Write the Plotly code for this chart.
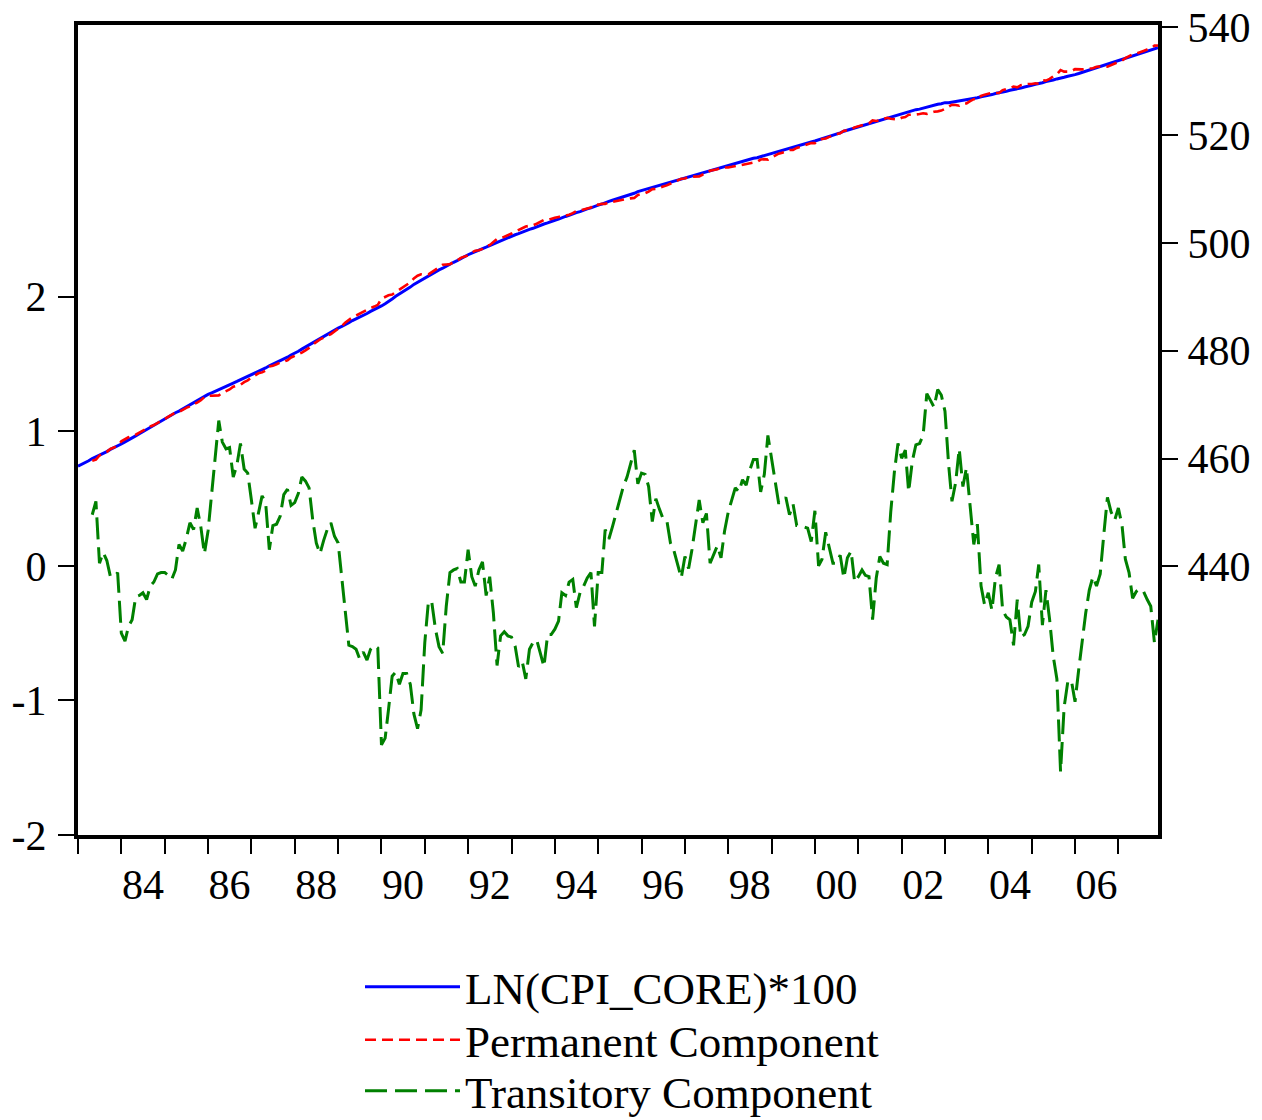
import pandas as pd
import plotly.graph_objects as go

# Monthly observations, 1983M01 - 2007M12
months = pd.date_range("1983-01-01", periods=300, freq="MS")

# LN(CPI_CORE)*100  (right axis)
ln_cpi_core = [
    458.6, 458.9, 459.3, 459.6, 460.0, 460.3, 460.6, 461.0, 461.3, 461.7, 462.0, 462.3,  # 1983
    462.7, 463.1, 463.5, 463.8, 464.2, 464.6, 465.0, 465.4, 465.8, 466.1, 466.5, 466.9,  # 1984
    467.3, 467.7, 468.1, 468.5, 468.8, 469.2, 469.6, 470.0, 470.4, 470.8, 471.1, 471.5,  # 1985
    471.9, 472.2, 472.5, 472.8, 473.1, 473.4, 473.7, 474.0, 474.3, 474.6, 474.9, 475.2,  # 1986
    475.5, 475.8, 476.2, 476.5, 476.8, 477.2, 477.5, 477.8, 478.2, 478.5, 478.8, 479.2,  # 1987
    479.5, 479.9, 480.3, 480.7, 481.1, 481.5, 481.8, 482.2, 482.6, 483.0, 483.4, 483.8,  # 1988
    484.2, 484.5, 484.9, 485.2, 485.6, 485.9, 486.2, 486.6, 486.9, 487.3, 487.6, 487.9,  # 1989
    488.3, 488.7, 489.2, 489.6, 490.1, 490.5, 490.9, 491.4, 491.8, 492.3, 492.7, 493.1,  # 1990
    493.6, 493.9, 494.3, 494.6, 495.0, 495.3, 495.7, 496.0, 496.4, 496.7, 497.1, 497.4,  # 1991
    497.8, 498.1, 498.4, 498.6, 498.9, 499.2, 499.5, 499.8, 500.0, 500.3, 500.6, 500.9,  # 1992
    501.2, 501.5, 501.7, 502.0, 502.2, 502.5, 502.7, 503.0, 503.2, 503.5, 503.7, 504.0,  # 1993
    504.2, 504.4, 504.7, 504.9, 505.1, 505.4, 505.6, 505.8, 506.1, 506.3, 506.5, 506.8,  # 1994
    507.0, 507.2, 507.5, 507.7, 507.9, 508.1, 508.4, 508.6, 508.8, 509.0, 509.2, 509.5,  # 1995
    509.7, 509.9, 510.1, 510.3, 510.5, 510.7, 510.8, 511.0, 511.2, 511.4, 511.6, 511.8,  # 1996
    512.0, 512.2, 512.4, 512.6, 512.8, 513.0, 513.2, 513.4, 513.6, 513.8, 514.0, 514.2,  # 1997
    514.4, 514.6, 514.8, 514.9, 515.1, 515.3, 515.5, 515.7, 515.8, 516.0, 516.2, 516.4,  # 1998
    516.6, 516.8, 517.0, 517.2, 517.4, 517.6, 517.7, 517.9, 518.1, 518.3, 518.5, 518.7,  # 1999
    518.9, 519.1, 519.3, 519.6, 519.8, 520.0, 520.2, 520.4, 520.7, 520.9, 521.1, 521.3,  # 2000
    521.5, 521.7, 521.9, 522.1, 522.3, 522.5, 522.8, 523.0, 523.2, 523.4, 523.6, 523.8,  # 2001
    524.0, 524.2, 524.3, 524.5, 524.7, 524.8, 525.0, 525.2, 525.4, 525.5, 525.7, 525.8,  # 2002
    526.0, 526.0, 526.1, 526.2, 526.3, 526.4, 526.6, 526.7, 526.8, 526.9, 527.1, 527.2,  # 2003
    527.4, 527.5, 527.7, 527.8, 528.0, 528.1, 528.3, 528.4, 528.6, 528.7, 528.9, 529.0,  # 2004
    529.2, 529.4, 529.5, 529.7, 529.9, 530.0, 530.2, 530.4, 530.5, 530.7, 530.9, 531.0,  # 2005
    531.2, 531.4, 531.6, 531.9, 532.1, 532.3, 532.5, 532.7, 533.0, 533.2, 533.4, 533.6,  # 2006
    533.9, 534.1, 534.3, 534.5, 534.7, 534.9, 535.1, 535.4, 535.6, 535.8, 536.0, 536.2,  # 2007
]

# Permanent Component (right axis)
permanent = [
    None, None, None, None, 459.62, 459.82, 460.58, 460.90, 461.26, 461.78, 462.08, 462.35,  # 1983
    463.20, 463.66, 463.95, 464.20, 464.43, 464.82, 465.20, 465.65, 465.95, 466.22, 466.56, 466.95,  # 1984
    467.35, 467.77, 468.20, 468.53, 468.64, 469.09, 469.40, 469.68, 470.13, 470.37, 470.81, 471.41,  # 1985
    471.64, 471.66, 471.71, 471.72, 472.18, 472.53, 472.82, 473.34, 473.55, 473.69, 474.18, 474.51,  # 1986
    475.01, 475.52, 475.81, 475.98, 476.33, 477.08, 477.20, 477.49, 477.83, 477.97, 478.23, 478.75,  # 1987
    479.03, 479.36, 479.64, 480.07, 480.52, 481.16, 481.63, 482.11, 482.41, 482.73, 483.08, 483.58,  # 1988
    484.03, 484.58, 485.20, 485.79, 486.20, 486.52, 486.89, 487.24, 487.60, 487.92, 488.19, 488.51,  # 1989
    489.63, 489.98, 490.27, 490.42, 490.89, 491.38, 491.70, 492.20, 492.68, 493.40, 493.91, 494.17,  # 1990
    494.17, 494.16, 494.57, 495.07, 495.60, 495.95, 496.00, 496.05, 496.43, 496.72, 497.22, 497.52,  # 1991
    497.68, 498.18, 498.55, 498.63, 498.87, 499.42, 499.58, 500.15, 500.74, 500.82, 501.09, 501.42,  # 1992
    501.73, 502.10, 502.45, 502.71, 503.04, 503.12, 503.27, 503.55, 503.85, 504.25, 504.21, 504.51,  # 1993
    504.67, 504.81, 504.90, 505.12, 505.22, 505.50, 505.91, 506.00, 506.25, 506.39, 506.55, 507.25,  # 1994
    507.05, 507.25, 507.23, 507.50, 507.61, 507.71, 507.93, 508.01, 508.14, 508.25, 508.34, 508.89,  # 1995
    509.01, 509.22, 509.51, 509.97, 510.00, 510.28, 510.45, 510.66, 511.03, 511.29, 511.59, 511.89,  # 1996
    511.93, 512.22, 512.28, 512.28, 512.31, 512.68, 512.81, 513.38, 513.52, 513.65, 513.94, 513.94,  # 1997
    514.00, 514.10, 514.22, 514.35, 514.46, 514.70, 514.79, 514.91, 515.01, 515.45, 515.52, 515.43,  # 1998
    515.80, 516.18, 516.53, 516.73, 516.89, 517.22, 517.24, 517.60, 517.80, 518.01, 518.22, 518.52,  # 1999
    518.49, 519.10, 519.25, 519.35, 519.66, 519.98, 520.18, 520.32, 520.79, 520.84, 520.99, 521.42,  # 2000
    521.58, 521.73, 521.97, 522.18, 522.70, 522.59, 522.73, 522.98, 523.19, 523.00, 522.90, 522.89,  # 2001
    523.20, 523.34, 523.75, 523.72, 523.80, 523.89, 524.03, 523.92, 524.17, 524.32, 524.39, 524.53,  # 2002
    524.85, 525.25, 525.62, 525.58, 525.43, 525.81, 525.87, 526.28, 526.64, 526.59, 527.25, 527.49,  # 2003
    527.60, 527.83, 527.79, 527.79, 528.33, 528.48, 528.70, 528.99, 528.85, 529.23, 529.41, 529.45,  # 2004
    529.47, 529.59, 529.49, 530.14, 530.08, 530.40, 530.87, 531.24, 532.03, 531.75, 531.76, 531.85,  # 2005
    532.21, 532.17, 532.17, 532.25, 532.28, 532.38, 532.65, 532.76, 532.76, 532.69, 533.00, 533.26,  # 2006
    533.47, 533.80, 534.25, 534.55, 534.94, 535.09, 535.27, 535.59, 535.85, 536.10, 536.57, 536.60,  # 2007
]

# Transitory Component (left axis)
transitory = [
    None, None, None, None, 0.38, 0.48, 0.02, 0.10, 0.04, -0.08, -0.08, -0.05,  # 1983
    -0.50, -0.56, -0.45, -0.40, -0.23, -0.22, -0.20, -0.25, -0.15, -0.12, -0.06, -0.05,  # 1984
    -0.05, -0.07, -0.10, -0.03, 0.16, 0.11, 0.20, 0.32, 0.27, 0.43, 0.29, 0.09,  # 1985
    0.26, 0.54, 0.79, 1.08, 0.92, 0.87, 0.88, 0.66, 0.75, 0.91, 0.72, 0.69,  # 1986
    0.49, 0.28, 0.39, 0.52, 0.47, 0.12, 0.30, 0.31, 0.37, 0.53, 0.57, 0.45,  # 1987
    0.47, 0.54, 0.66, 0.63, 0.58, 0.34, 0.17, 0.09, 0.19, 0.27, 0.32, 0.22,  # 1988
    0.17, -0.08, -0.30, -0.59, -0.60, -0.62, -0.69, -0.64, -0.70, -0.62, -0.59, -0.61,  # 1989
    -1.33, -1.28, -1.07, -0.82, -0.79, -0.88, -0.80, -0.80, -0.88, -1.10, -1.21, -1.07,  # 1990
    -0.57, -0.26, -0.27, -0.47, -0.60, -0.65, -0.30, -0.05, -0.03, -0.02, -0.12, -0.12,  # 1991
    0.12, -0.08, -0.15, -0.03, 0.03, -0.22, -0.08, -0.35, -0.74, -0.52, -0.49, -0.52,  # 1992
    -0.53, -0.60, -0.75, -0.71, -0.84, -0.62, -0.57, -0.55, -0.65, -0.75, -0.51, -0.51,  # 1993
    -0.47, -0.41, -0.20, -0.22, -0.12, -0.10, -0.31, -0.20, -0.15, -0.09, -0.05, -0.45,  # 1994
    -0.05, -0.05, 0.27, 0.20, 0.29, 0.39, 0.47, 0.59, 0.66, 0.75, 0.86, 0.61,  # 1995
    0.69, 0.68, 0.59, 0.33, 0.50, 0.42, 0.35, 0.34, 0.17, 0.11, 0.01, -0.09,  # 1996
    0.07, -0.02, 0.12, 0.32, 0.49, 0.32, 0.39, 0.02, 0.08, 0.15, 0.06, 0.26,  # 1997
    0.40, 0.50, 0.58, 0.55, 0.64, 0.60, 0.71, 0.79, 0.79, 0.55, 0.68, 0.97,  # 1998
    0.80, 0.62, 0.47, 0.47, 0.51, 0.38, 0.46, 0.30, 0.30, 0.29, 0.28, 0.18,  # 1999
    0.41, 0.00, 0.05, 0.25, 0.14, 0.02, 0.02, 0.08, -0.09, 0.06, 0.11, -0.12,  # 2000
    -0.08, -0.03, -0.07, -0.08, -0.40, -0.09, 0.07, 0.02, 0.01, 0.40, 0.70, 0.91,  # 2001
    0.80, 0.86, 0.55, 0.78, 0.90, 0.91, 0.97, 1.28, 1.23, 1.18, 1.31, 1.27,  # 2002
    1.15, 0.75, 0.48, 0.62, 0.87, 0.59, 0.73, 0.42, 0.16, 0.31, -0.15, -0.29,  # 2003
    -0.20, -0.33, -0.09, 0.01, -0.33, -0.38, -0.40, -0.59, -0.25, -0.53, -0.51, -0.45,  # 2004
    -0.27, -0.19, 0.01, -0.44, -0.18, -0.40, -0.67, -0.84, -1.53, -1.05, -0.86, -0.85,  # 2005
    -1.01, -0.77, -0.57, -0.35, -0.18, -0.08, -0.15, -0.06, 0.24, 0.51, 0.40, 0.34,  # 2006
    0.43, 0.30, 0.05, -0.05, -0.24, -0.19, -0.17, -0.19, -0.25, -0.30, -0.57, -0.40,  # 2007
]

left_ticks = [-2, -1, 0, 1, 2]
right_ticks = [440, 460, 480, 500, 520, 540]
year_labels = ["84", "86", "88", "90", "92", "94", "96", "98", "00", "02", "04", "06"]
label_years = [1984, 1986, 1988, 1990, 1992, 1994, 1996, 1998, 2000, 2002, 2004, 2006]
tick_years = list(range(1983, 2008))

FONT = "Liberation Serif"
W, H = 1262, 1120

fig = go.Figure()
fig.add_trace(go.Scatter(
    x=months, y=ln_cpi_core, name="LN(CPI_CORE)*100", mode="lines",
    line=dict(color="#0000FF", width=3), yaxis="y2", legend="legend"))
fig.add_trace(go.Scatter(
    x=months, y=permanent, name="Permanent Component", mode="lines",
    line=dict(color="#FF0000", width=2.6, dash="11px,6px"), yaxis="y2", legend="legend2"))
fig.add_trace(go.Scatter(
    x=months, y=transitory, name="Transitory Component", mode="lines",
    line=dict(color="#008000", width=3, dash="22px,8px"), yaxis="y", legend="legend3"))

legend_common = dict(
    orientation="v", xref="container", yref="container",
    x=360 / W, xanchor="left", yanchor="middle",
    font=dict(family=FONT, size=45, color="black"),
    itemwidth=95, bgcolor="rgba(0,0,0,0)", borderwidth=0,
)

fig.update_layout(
    width=W, height=H,
    margin=dict(l=78, r=104, t=25, b=285, autoexpand=False),
    paper_bgcolor="white", plot_bgcolor="white",
    font=dict(family=FONT, size=42, color="black"),
    showlegend=True,
    legend=dict(legend_common, y=1 - 987 / H),
    legend2=dict(legend_common, y=1 - 1040 / H),
    legend3=dict(legend_common, y=1 - 1091 / H),
    xaxis=dict(
        type="date", automargin=False,
        range=[months[0], months[-1]],
        tickmode="array",
        tickvals=[f"{y}-07-01" for y in label_years],
        ticktext=year_labels,
        ticks="", showgrid=False, zeroline=False,
        showline=True, linecolor="black", linewidth=4, mirror=True,
        ticklabelstandoff=10,
        tickfont=dict(family=FONT, size=42, color="black"),
        minor=dict(
            tickmode="array",
            tickvals=[f"{y}-01-01" for y in tick_years],
            ticks="outside", ticklen=15, tickwidth=1.5, tickcolor="black",
            showgrid=False,
        ),
    ),
    yaxis=dict(
        automargin=False,
        range=[-2.0, 4.02],
        tickmode="array", tickvals=left_ticks,
        ticktext=[str(v) for v in left_ticks],
        ticks="outside", ticklen=16, tickwidth=1.5, tickcolor="black",
        ticklabelstandoff=3, ticklabeloverflow="allow",
        showgrid=False, zeroline=False,
        showline=True, linecolor="black", linewidth=4, mirror=True,
        tickfont=dict(family=FONT, size=42, color="black"),
    ),
    yaxis2=dict(
        automargin=False,
        range=[390.2, 540.4], overlaying="y", side="right",
        tickmode="array", tickvals=right_ticks,
        ticktext=[str(v) for v in right_ticks],
        ticks="outside", ticklen=16, tickwidth=1.5, tickcolor="black",
        ticklabelstandoff=1, ticklabeloverflow="allow",
        showgrid=False, zeroline=False,
        showline=True, linecolor="black", linewidth=4,
        tickfont=dict(family=FONT, size=42, color="black"),
    ),
)

# remove the browser's default 8px page margin so the figure fills the window
fig.write_html(
    "out.html",
    config={"displayModeBar": False},
    post_script="document.body.style.margin='0px';",
)
